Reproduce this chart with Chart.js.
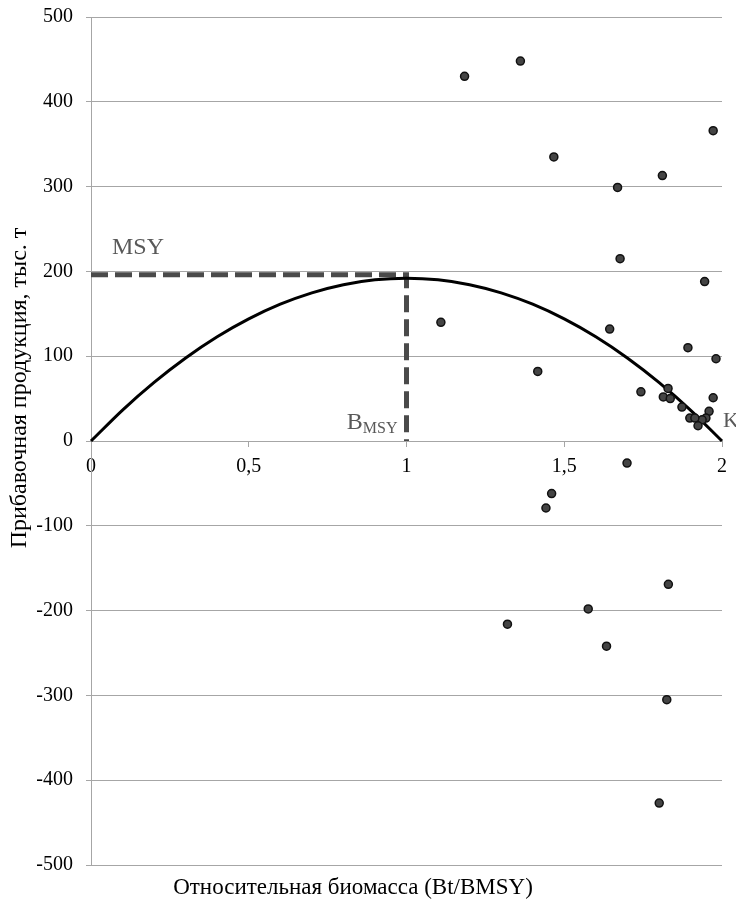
<!DOCTYPE html>
<html>
<head>
<meta charset="utf-8">
<script src="https://cdn.jsdelivr.net/npm/chart.js@4"></script>
<style>
  html, body { margin: 0; padding: 0; background: #fff; }
  #wrap { width: 736px; height: 903px; }
</style>
</head>
<body>
<div id="wrap"><canvas id="chart"></canvas></div>
<script>
// observed points: relative biomass and surplus production
const bRel = [1.184, 1.361, 1.467, 1.669, 1.972, 1.811, 1.677, 1.945, 1.109, 1.416,
  1.644, 1.892, 1.981, 1.743, 1.814, 1.829, 1.836, 1.873, 1.972, 1.959,
  1.949, 1.937, 1.898, 1.914, 1.924, 1.699, 1.460, 1.442, 1.830, 1.576,
  1.320, 1.634, 1.825, 1.801];
const surplus = [430, 448, 335, 299, 366, 313, 215, 188, 140, 82,
  132, 110, 97, 58, 52, 62, 50, 40, 51, 35,
  27, 25, 27, 27, 18, -26, -62, -79, -169, -198,
  -216, -242, -305, -427];

// production curve
const curveB = [0, 0.1, 0.2, 0.3, 0.4, 0.5, 0.6, 0.7, 0.8, 0.9, 1.0,
  1.1, 1.2, 1.3, 1.4, 1.5, 1.6, 1.7, 1.8, 1.9, 2.0];
const curveP = [0, 36.5, 69.1, 97.9, 122.9, 144, 161.3, 174.7, 184.3, 190.1, 192,
  190.1, 184.3, 174.7, 161.3, 144, 122.9, 97.9, 69.1, 36.5, 0];

// MSY reference lines
const msyLevel = 196;
const bMsy = 1;
const kValue = 2;

const xTickLabels = { 0: '0', 0.5: '0,5', 1: '1', 1.5: '1,5', 2: '2' };

const FONT = "'Liberation Serif', 'Times New Roman', serif";

const textPlugin = {
  id: 'texts',
  afterDraw(chart) {
    const ctx = chart.ctx;
    const xs = chart.scales.x, ys = chart.scales.y;
    ctx.save();
    ctx.fillStyle = '#000';
    ctx.textAlign = 'center';
    ctx.textBaseline = 'middle';
    ctx.font = '23px ' + FONT;
    ctx.fillText('Относительная биомасса (Bt/BMSY)', 353, 888);

    ctx.save();
    ctx.font = '24px ' + FONT;
    ctx.translate(20, 388);
    ctx.rotate(-Math.PI / 2);
    ctx.fillText('Прибавочная продукция, тыс. т', 0, 0);
    ctx.restore();

    ctx.fillStyle = '#595959';
    ctx.textBaseline = 'alphabetic';
    ctx.textAlign = 'left';
    ctx.font = '24px ' + FONT;
    ctx.fillText('MSY', xs.getPixelForValue(0) + 21, ys.getPixelForValue(msyLevel) - 21);

    // B with subscript MSY
    const sub = 'MSY';
    ctx.font = '16px ' + FONT;
    const subW = ctx.measureText(sub).width;
    ctx.font = '24px ' + FONT;
    const bW = ctx.measureText('B').width;
    const right = xs.getPixelForValue(bMsy) - 9;
    const base = ys.getPixelForValue(0) - 12;
    ctx.fillText('B', right - subW - bW, base);
    ctx.font = '16px ' + FONT;
    ctx.fillText(sub, right - subW, base + 4);

    ctx.font = '22px ' + FONT;
    ctx.fillText('K', xs.getPixelForValue(kValue) + 1, ys.getPixelForValue(0) - 14);
    ctx.restore();
  }
};

new Chart(document.getElementById('chart'), {
  type: 'scatter',
  data: {
    datasets: [
      {
        data: bRel.map((b, i) => ({ x: b, y: surplus[i] })),
        backgroundColor: '#444',
        borderColor: '#111',
        borderWidth: 1.5,
        pointRadius: 4,
        clip: false,
        order: 0
      },
      {
        data: curveB.map((b, i) => ({ x: b, y: curveP[i] })),
        showLine: true,
        borderColor: '#000',
        borderWidth: 3,
        pointRadius: 0,
        tension: 0.3,
        fill: false,
        clip: false,
        order: 1
      },
      {
        data: [{ x: 0, y: msyLevel }, { x: bMsy, y: msyLevel }, { x: bMsy, y: 0 }],
        showLine: true,
        borderColor: '#4a4a4a',
        borderWidth: 5,
        borderDash: [17, 7],
        borderCapStyle: 'butt',
        borderJoinStyle: 'miter',
        pointRadius: 0,
        tension: 0,
        fill: false,
        clip: false,
        order: 2
      }
    ]
  },
  options: {
    responsive: true,
    maintainAspectRatio: false,
    animation: false,
    layout: { padding: { top: 17, right: 14, bottom: 38, left: 0 } },
    plugins: {
      legend: { display: false },
      tooltip: { enabled: false }
    },
    scales: {
      x: {
        type: 'linear',
        position: { y: 0 },
        min: 0,
        max: 2,
        afterFit(scale) {
          scale.height = 0;
          scale.paddingTop = 0;
          scale.paddingBottom = 0;
        },
        ticks: {
          stepSize: 0.5,
          padding: 9,
          color: '#000',
          font: { family: FONT, size: 20 },
          maxRotation: 0,
          callback: v => xTickLabels[v] !== undefined ? xTickLabels[v] : ''
        },
        grid: { drawOnChartArea: false, drawTicks: true, tickLength: 5, color: '#a6a6a6' },
        border: { color: '#a6a6a6', width: 1 }
      },
      y: {
        type: 'linear',
        position: 'left',
        min: -500,
        max: 500,
        afterFit(scale) {
          scale.width = 91;
          scale.paddingTop = 0;
          scale.paddingBottom = 0;
        },
        ticks: {
          stepSize: 100,
          padding: 13,
          color: '#000',
          font: { family: FONT, size: 20 }
        },
        grid: { color: '#a6a6a6', lineWidth: 1, tickLength: 5 },
        border: { color: '#a6a6a6', width: 1 }
      }
    }
  },
  plugins: [textPlugin]
});
</script>
</body>
</html>
